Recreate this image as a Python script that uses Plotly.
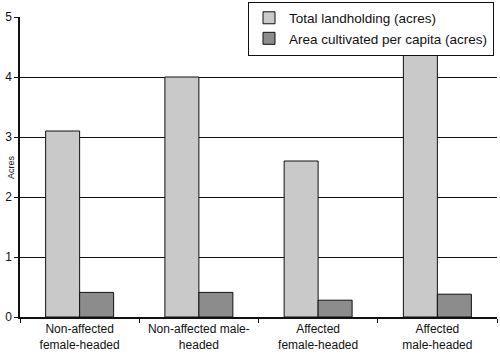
import plotly.graph_objects as go

categories = ["Non-affected<br>female-headed", "Non-affected male-<br>headed",
              "Affected<br>female-headed", "Affected<br>male-headed"]
total_landholding = [3.1, 4.0, 2.6, 4.4]
area_per_capita = [0.41, 0.41, 0.28, 0.38]
y_ticks = [0, 1, 2, 3, 4, 5]
grid_ticks = [1, 2, 3, 4]

font = dict(family="Arial, Liberation Sans, sans-serif", size=12, color="#111")

fig = go.Figure()
fig.add_trace(go.Bar(x=categories, y=total_landholding, name="Total landholding (acres)",
                     marker=dict(color="#c9c9c9", line=dict(color="#111", width=1))))
fig.add_trace(go.Bar(x=categories, y=area_per_capita, name="Area cultivated per capita (acres)",
                     marker=dict(color="#8c8c8c", line=dict(color="#111", width=1))))
# invisible trace on secondary axis for gridlines
fig.add_trace(go.Scatter(x=categories, y=[None]*4, yaxis="y2", showlegend=False, hoverinfo="skip"))

H = 317  # paper height (361 - bottom margin)
fig.update_layout(
    width=500, height=361,
    margin=dict(l=0, r=0, t=0, b=44, autoexpand=False),
    paper_bgcolor="white", plot_bgcolor="white",
    font=font,
    barmode="group", bargap=0.43, bargroupgap=0,
    xaxis=dict(domain=[20 / 500, 497 / 500], showline=True, linecolor="#111", linewidth=1.5,
               ticks="outside", tickson="boundaries", ticklen=4, tickcolor="#111",
               showgrid=False, tickfont=dict(size=12), automargin=False),
    yaxis=dict(domain=[0, 300 / H], range=[0, 5], tickvals=y_ticks, showgrid=False,
               showline=True, linecolor="#111", linewidth=1.5, ticks="outside", ticklen=4,
               tickcolor="#111", zeroline=False, tickfont=dict(size=12), automargin=False),
    yaxis2=dict(domain=[0, 300 / H], range=[0, 5], overlaying="y", tickvals=grid_ticks,
                showgrid=True, gridcolor="#111", gridwidth=1, showticklabels=False,
                zeroline=False, automargin=False),
    legend=dict(x=248 / 500, y=1 - 1.5 / H, xanchor="left", yanchor="top",
                bordercolor="#111", borderwidth=1, bgcolor="white",
                font=dict(size=13.5), tracegroupgap=0, itemwidth=30),
    annotations=[dict(text="Acres", xref="paper", yref="paper", x=11 / 500, y=150 / H,
                      xanchor="center", yanchor="middle", textangle=-90, showarrow=False,
                      font=dict(size=9))],
)
fig.write_html("out.html", config={"displayModeBar": False},
               post_script="document.body.style.margin='0';")
